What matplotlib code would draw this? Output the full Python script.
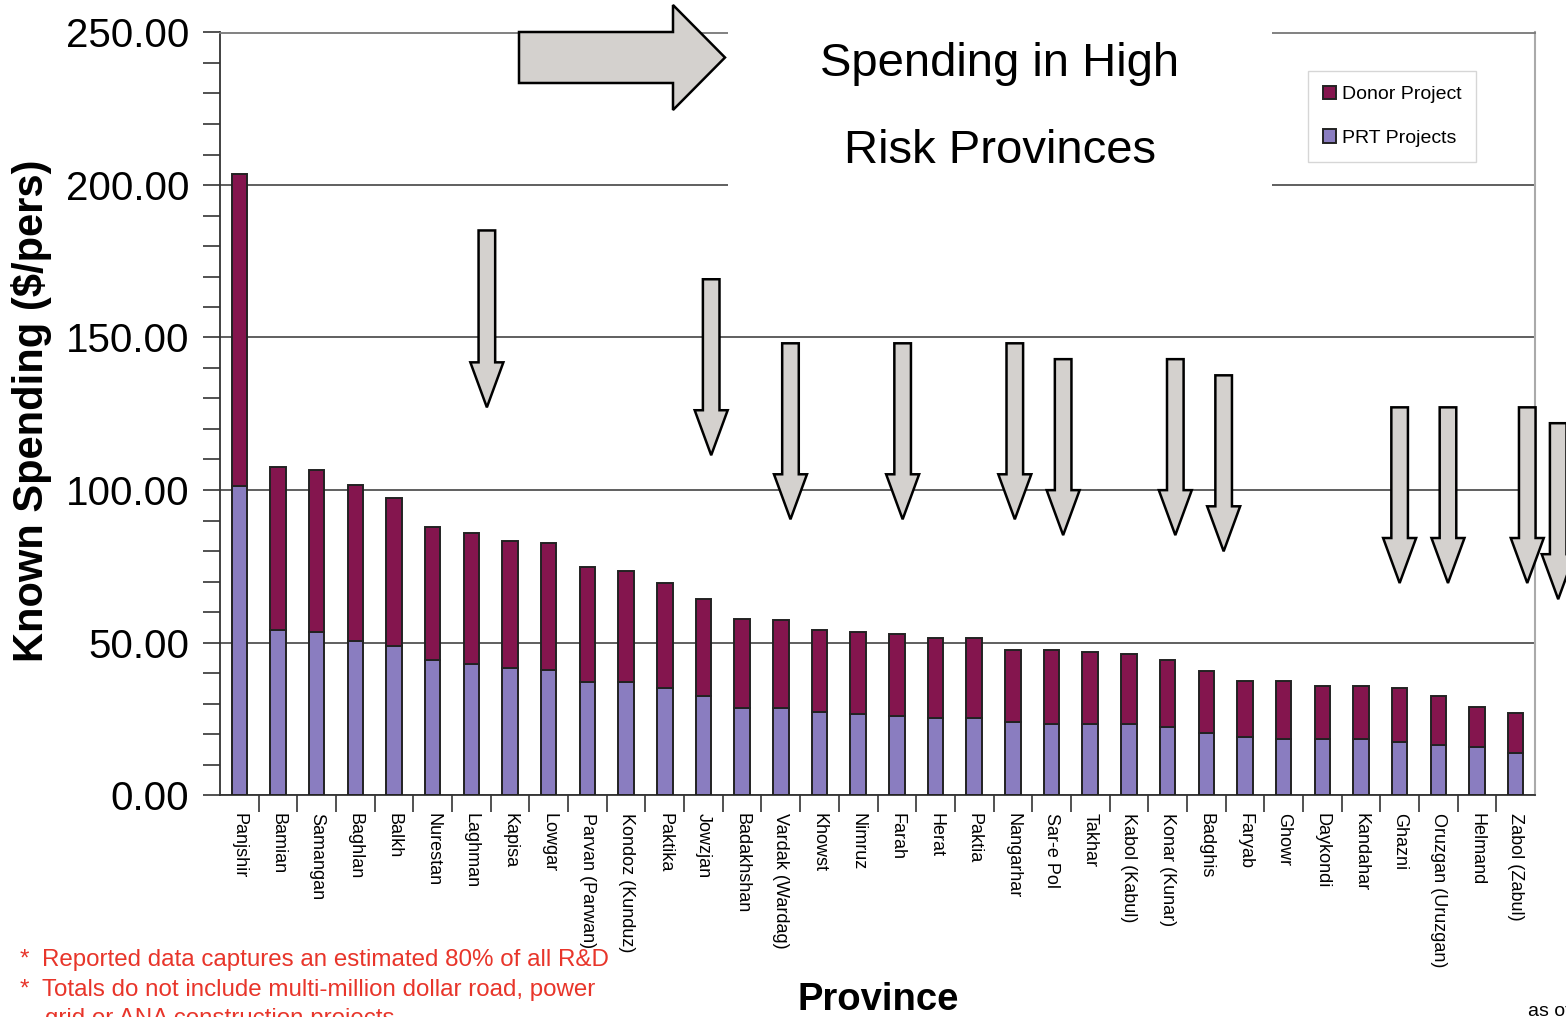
import matplotlib.pyplot as plt
from matplotlib.patches import Polygon, Rectangle
import numpy as np

plt.rcParams['font.family'] = ['Liberation Sans', 'DejaVu Sans']

# ---- data ----
provinces = ["Panjshir", "Bamian", "Samangan", "Baghlan", "Balkh", "Nurestan",
             "Laghman", "Kapisa", "Lowgar", "Parvan (Parwan)", "Kondoz (Kunduz)",
             "Paktika", "Jowzjan", "Badakhshan", "Vardak (Wardag)", "Khowst",
             "Nimruz", "Farah", "Herat", "Paktia", "Nangarhar", "Sar-e Pol",
             "Takhar", "Kabol (Kabul)", "Konar (Kunar)", "Badghis", "Faryab",
             "Ghowr", "Daykondi", "Kandahar", "Ghazni", "Oruzgan (Uruzgan)",
             "Helmand", "Zabol (Zabul)"]
prt = [101.2, 54.0, 53.3, 50.6, 48.7, 44.1, 42.8, 41.5, 40.9, 37.0, 37.0,
       35.1, 32.4, 28.6, 28.6, 27.3, 26.5, 25.9, 25.3, 25.3, 24.0, 23.4,
       23.4, 23.3, 22.4, 20.2, 18.9, 18.2, 18.2, 18.2, 17.4, 16.4, 15.6, 13.7]
donor = [102.3, 53.5, 53.4, 51.0, 48.8, 43.7, 43.0, 41.9, 41.7, 37.8, 36.6,
         34.5, 32.0, 29.0, 28.7, 26.8, 27.0, 27.0, 26.2, 26.2, 23.7, 24.3,
         23.5, 22.9, 21.8, 20.3, 18.5, 19.2, 17.7, 17.7, 17.8, 16.2, 13.2, 13.2]

# down arrows: (category position, top value, tip value)
down_arrows = [(6.4, 185.1, 127.1), (12.2, 169.1, 111.4), (14.25, 148.1, 90.4),
               (17.15, 148.1, 90.4), (20.05, 148.1, 90.4), (21.3, 142.9, 85.2),
               (24.2, 142.9, 85.2), (25.45, 137.6, 79.9), (30.0, 127.1, 69.5),
               (31.25, 127.1, 69.5), (33.3, 127.1, 69.5), (34.1, 121.9, 64.2)]

W, H = 1566, 1017
fig = plt.figure(figsize=(W / 100, H / 100), dpi=100)
ax = fig.add_axes([220 / W, 1 - 795 / H, 1315 / W, 762.5 / H])

x = np.arange(len(provinces))
c_prt = '#8A7DC0'
c_donor = '#84154E'
ax.bar(x, prt, width=0.4, color=c_prt, edgecolor='#222222', linewidth=1.4,
       label='PRT Projects', zorder=3)
ax.bar(x, donor, width=0.4, bottom=prt, color=c_donor, edgecolor='#222222',
       linewidth=1.4, label='Donor Project', zorder=3)

ax.set_xlim(-0.5, len(provinces) - 0.5)
ax.set_ylim(0, 250)
ax.set_yticks(np.arange(0, 251, 50))
ax.set_yticklabels(['%.2f' % v for v in np.arange(0, 251, 50)], fontsize=29)
ax.set_yticks(np.arange(0, 251, 10), minor=True)
ax.tick_params(axis='y', which='both', length=12, width=1.2, color='#333333', pad=10)
ax.yaxis.grid(True, color='#444444', linewidth=1.2, zorder=1)

ax.set_xticks(x)
ax.set_xticklabels(provinces, rotation=270, fontsize=13, va='top', ha='center')
ax.set_xticks(np.arange(0.5, len(provinces) - 0.5, 1), minor=True)
ax.tick_params(axis='x', which='major', length=0, pad=13)
ax.tick_params(axis='x', which='minor', length=12, width=1.2, color='#333333')

for s in ['left', 'bottom']:
    ax.spines[s].set_color('#333333')
    ax.spines[s].set_linewidth(1.3)
ax.spines['top'].set_color('#777777')
ax.spines['right'].set_color('#aaaaaa')
ax.spines['top'].set_linewidth(1.3)
ax.spines['right'].set_linewidth(1.5)

ax.set_ylabel('Known Spending ($/pers)', fontsize=30, fontweight='bold')
ax.yaxis.set_label_coords(-0.128, 0.504)
fig.text(878 / W, 1 - 1000 / H, 'Province', fontsize=27.5, fontweight='bold',
         ha='center', va='center')

h, l = ax.get_legend_handles_labels()
leg = ax.legend(h[::-1], l[::-1], loc='upper left',
                bbox_to_anchor=((1308 - 220) / 1315, (795 - 71) / 762.5),
                fontsize=14, frameon=True, fancybox=False, edgecolor='#cccccc',
                handlelength=0.7, handleheight=0.7, handletextpad=0.3,
                labelspacing=1.35, borderpad=0.75, borderaxespad=0)

# pixel -> data scale for the arrow shapes
px_x = 1315 / len(provinces)
px_y = 762.5 / 250

for xc, top, tip in down_arrows:
    sw = 8.3 / px_x
    hw = 16.5 / px_x
    hl = 45 / px_y
    pts = [(xc - sw, top), (xc + sw, top), (xc + sw, tip + hl), (xc + hw, tip + hl),
           (xc, tip), (xc - hw, tip + hl), (xc - sw, tip + hl)]
    ax.add_patch(Polygon(pts, closed=True, facecolor='#D4D1CE', edgecolor='black',
                         linewidth=1.8, zorder=5, clip_on=False))

# white title panel over the grid
fig.patches.append(Rectangle((728 / W, 1 - 187 / H), 544 / W, 187 / H,
                             transform=fig.transFigure, facecolor='white',
                             edgecolor='none', zorder=4))
fig.text(1000 / W, 1 - 64 / H, 'Spending in High', fontsize=34, ha='center',
         va='center', zorder=6)
fig.text(1000 / W, 1 - 151 / H, 'Risk Provinces', fontsize=34, ha='center',
         va='center', zorder=6)

# big right arrow pointing at the title
ax_x0 = (519 - 220) / px_x - 0.5
ax_x1 = (673 - 220) / px_x - 0.5
ax_x2 = (725 - 220) / px_x - 0.5
yv = lambda py: (795 - py) / px_y
big = [(ax_x0, yv(32)), (ax_x1, yv(32)), (ax_x1, yv(5)), (ax_x2, yv(57.5)),
       (ax_x1, yv(110)), (ax_x1, yv(83)), (ax_x0, yv(83))]
ax.add_patch(Polygon(big, closed=True, facecolor='#D4D1CE', edgecolor='black',
                     linewidth=1.8, zorder=7, clip_on=False))

red = '#E8352A'
fig.text(20 / W, 1 - 960 / H, '*', fontsize=17.4, color=red, va='center')
fig.text(42 / W, 1 - 960 / H, 'Reported data captures an estimated 80% of all R&D',
         fontsize=17.4, color=red, va='center')
fig.text(20 / W, 1 - 990 / H, '*', fontsize=17.4, color=red, va='center')
fig.text(42 / W, 1 - 990 / H, 'Totals do not include multi-million dollar road, power',
         fontsize=17.4, color=red, va='center')
fig.text(45 / W, 1 - 1019 / H, 'grid or ANA construction projects',
         fontsize=17.4, color=red, va='center')
fig.text(1528 / W, 1 - 1012 / H, 'as of', fontsize=14, va='center')

fig.savefig('out.png', dpi=100)
